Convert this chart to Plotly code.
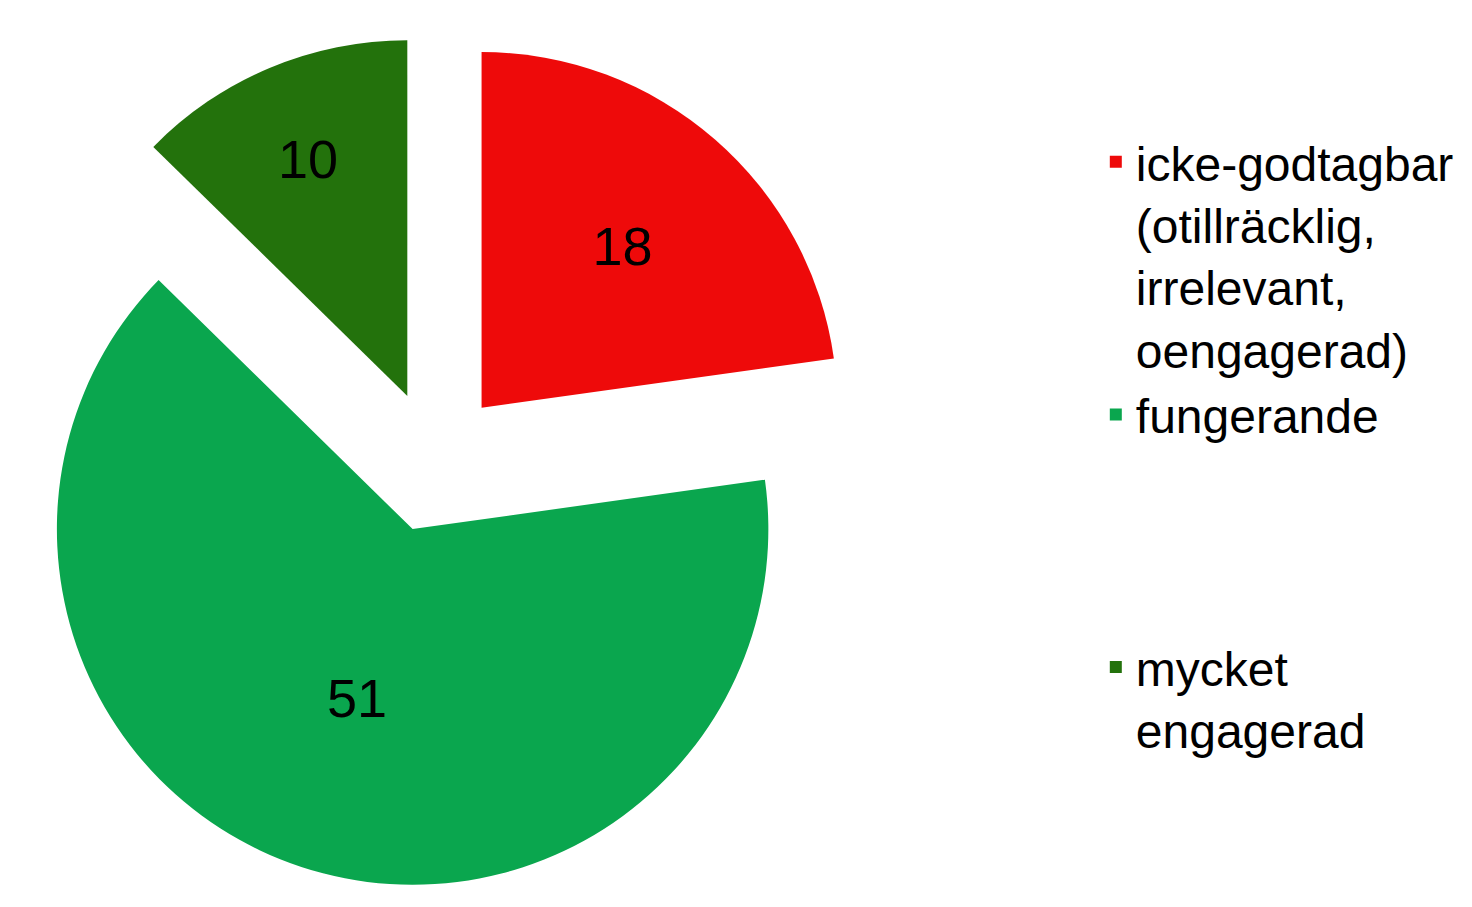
import plotly.graph_objects as go

labels = [
    "icke-godtagbar<br>(otillräcklig,<br>irrelevant,<br>oengagerad)",
    "fungerande<br> <br> <br> ",
    "mycket<br>engagerad",
]
values = [18, 51, 10]
colors = ["#EE0A0A", "#0AA64E", "#23720C"]
pulls = [0.2, 0.2, 0.2]

fig = go.Figure(
    go.Pie(
        labels=labels,
        values=values,
        sort=False,
        direction="clockwise",
        rotation=0,
        pull=pulls,
        marker=dict(colors=colors, line=dict(width=0)),
        textinfo="value",
        textposition="inside",
        insidetextorientation="horizontal",
        textfont=dict(size=54, color="black", family="Liberation Sans, Arial"),
        hoverinfo="value+percent",
        domain=dict(x=[0, 0.58], y=[0, 1]),
    )
)

fig.update_layout(
    width=1472,
    height=907,
    margin=dict(l=0, r=0, t=0, b=0),
    paper_bgcolor="white",
    plot_bgcolor="white",
    showlegend=True,
    legend=dict(
        x=0.739,
        y=0.872,
        xanchor="left",
        yanchor="top",
        valign="top",
        font=dict(size=48, color="black", family="Liberation Sans, Arial"),
        itemsizing="constant",
        bgcolor="rgba(0,0,0,0)",
    ),
    font=dict(family="Liberation Sans, Arial"),
)

fig.write_html("out.html")
